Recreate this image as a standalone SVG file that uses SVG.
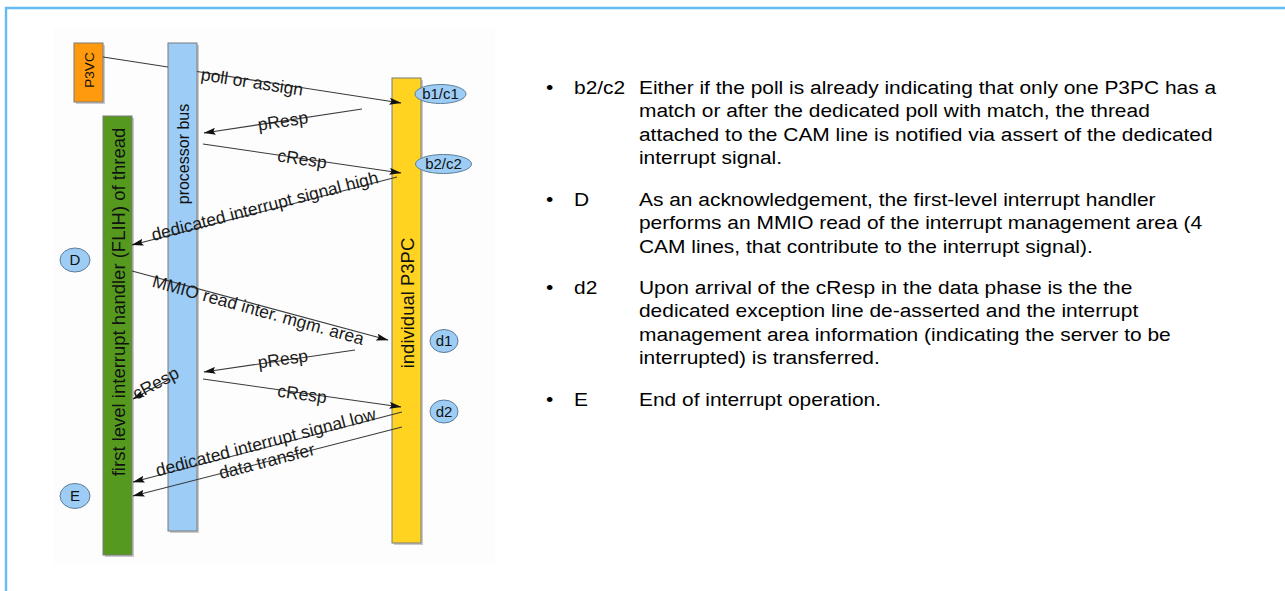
<svg xmlns="http://www.w3.org/2000/svg" width="1285" height="591" viewBox="0 0 1285 591">
<defs>
<style>
.bar{stroke:#7a7a7a;stroke-width:1}
.shadow{fill:#6a6a6a;opacity:0.35}
.conn{stroke:#3a3a3a;stroke-width:1.1;fill:none}
.arr{marker-end:url(#ah)}
.lbl{font-family:"Liberation Sans",Arial,sans-serif;font-size:17.5px;fill:#1a1a1a;text-anchor:middle}
.bl{font-family:"Liberation Sans",Arial,sans-serif;fill:#111;text-anchor:middle}
.ell{fill:#9dcdf5;stroke:#5c7d99;stroke-width:1}
.el{font-family:"Liberation Sans",Arial,sans-serif;font-size:15px;fill:#111;text-anchor:middle}
.tx{font-family:"Liberation Sans",Arial,sans-serif;font-size:18.7px;fill:#000}
</style>
<marker id="ah" markerWidth="12" markerHeight="7" refX="11.5" refY="3.5" orient="auto" markerUnits="userSpaceOnUse">
<path d="M0,0 L12,3.5 L0,7 L2,3.5 z" fill="#111"/>
</marker>
</defs>
<rect x="0" y="0" width="1285" height="591" fill="#fff"/>
<path d="M6,591 V8 H1285" fill="none" stroke="#66bbf7" stroke-width="2.4"/>
<rect x="53" y="28" width="442" height="537" fill="#fdfdfd"/>

<g id="node-p3vc">
<rect class="shadow" x="76" y="45" width="29" height="59"/>
<rect class="bar" x="74" y="43" width="29" height="59" fill="#ff9a0e"/>
<text class="bl" font-size="13.5" transform="translate(93.5,70) rotate(-90)">P3VC</text>
</g>
<g id="node-processor-bus">
<rect class="shadow" x="170" y="45" width="29" height="488"/>
<rect class="bar" x="168" y="43" width="29" height="488" fill="#9dcdf7"/>
<text class="bl" font-size="16" transform="translate(188.5,154) rotate(-90)">processor bus</text>
</g>
<g id="node-flih">
<rect class="shadow" x="105" y="118" width="29" height="439"/>
<rect class="bar" x="103" y="116" width="29" height="439" fill="#559a1f"/>
<text class="bl" font-size="18.5" transform="translate(124.5,302) rotate(-90)">first level interrupt handler (FLIH) of thread</text>
</g>
<g id="node-p3pc">
<rect class="shadow" x="394" y="80" width="29" height="465"/>
<rect class="bar" x="392" y="78" width="29" height="465" fill="#ffd31f"/>
<text class="bl" font-size="18.5" transform="translate(413.5,303) rotate(-90)">individual P3PC</text>
</g>

<g id="node-b1c1"><ellipse class="ell" cx="440.5" cy="94" rx="25.5" ry="9.5"/><text class="el" x="440.5" y="99">b1/c1</text></g>
<g id="node-b2c2"><ellipse class="ell" cx="443.5" cy="164" rx="28" ry="9.5"/><text class="el" x="443.5" y="169">b2/c2</text></g>
<g id="node-D"><ellipse class="ell" cx="75" cy="260" rx="15" ry="12"/><text class="el" x="75" y="265">D</text></g>
<g id="node-d1"><ellipse class="ell" cx="444" cy="341" rx="14" ry="11.5"/><text class="el" x="444" y="346">d1</text></g>
<g id="node-d2"><ellipse class="ell" cx="444" cy="411.5" rx="14" ry="11.5"/><text class="el" x="444" y="416.5">d2</text></g>
<g id="node-E"><ellipse class="ell" cx="75" cy="496" rx="15" ry="12.5"/><text class="el" x="75" y="501">E</text></g>

<g id="connectors">
<line class="conn" x1="103" y1="57" x2="168" y2="67"/>
<line class="conn arr" x1="197" y1="71.5" x2="401" y2="103"/>
<line class="conn arr" x1="362" y1="109" x2="204" y2="133"/>
<line class="conn arr" x1="203" y1="144" x2="401" y2="173"/>
<line class="conn arr" x1="397" y1="177" x2="132" y2="245"/>
<line class="conn arr" x1="132" y1="271" x2="388" y2="340"/>
<line class="conn arr" x1="355" y1="350" x2="204" y2="372"/>
<line class="conn arr" x1="168" y1="380" x2="133" y2="399"/>
<line class="conn arr" x1="203" y1="379" x2="401" y2="407"/>
<line class="conn arr" x1="402" y1="412" x2="133" y2="482"/>
<line class="conn arr" x1="402" y1="427" x2="133" y2="496"/>
<text class="lbl" transform="translate(252,83) rotate(8.8)" y="5">poll or assign</text>
<text class="lbl" transform="translate(283,122) rotate(-8.7)" y="5">pResp</text>
<text class="lbl" transform="translate(302,160) rotate(8.4)" y="5">cResp</text>
<text class="lbl" transform="translate(265,207) rotate(-14.4)" y="5">dedicated interrupt signal high</text>
<text class="lbl" transform="translate(258,311) rotate(15.5)" y="5">MMIO read inter. mgm. area</text>
<text class="lbl" transform="translate(283,360) rotate(-8.3)" y="5">pResp</text>
<text class="lbl" transform="translate(156,384) rotate(-28)" y="5">cResp</text>
<text class="lbl" transform="translate(302,395) rotate(8.1)" y="5">cResp</text>
<text class="lbl" transform="translate(266,443) rotate(-14.6)" y="5">dedicated interrupt signal low</text>
<text class="lbl" transform="translate(267,462) rotate(-14.4)" y="5">data transfer</text>
</g>

<g id="legend" transform="matrix(1.12,0,0,1,0,0)">
<text class="tx" x="487.5" y="94">•</text>
<text class="tx" x="512.5" y="94">b2/c2</text>
<text class="tx" x="570.5" y="94">Either if the poll is already indicating that only one P3PC has a</text>
<text class="tx" x="570.5" y="117.5">match or after the dedicated poll with match, the thread</text>
<text class="tx" x="570.5" y="141">attached to the CAM line is notified via assert of the dedicated</text>
<text class="tx" x="570.5" y="164.5">interrupt signal.</text>
<text class="tx" x="487.5" y="206">•</text>
<text class="tx" x="512.5" y="206">D</text>
<text class="tx" x="570.5" y="206">As an acknowledgement, the first-level interrupt handler</text>
<text class="tx" x="570.5" y="229.5">performs an MMIO read of the interrupt management area (4</text>
<text class="tx" x="570.5" y="253">CAM lines, that contribute to the interrupt signal).</text>
<text class="tx" x="487.5" y="294">•</text>
<text class="tx" x="512.5" y="294">d2</text>
<text class="tx" x="570.5" y="294">Upon arrival of the cResp in the data phase is the the</text>
<text class="tx" x="570.5" y="317.5">dedicated exception line de-asserted and the interrupt</text>
<text class="tx" x="570.5" y="341">management area information (indicating the server to be</text>
<text class="tx" x="570.5" y="364.5">interrupted) is transferred.</text>
<text class="tx" x="487.5" y="406">•</text>
<text class="tx" x="512.5" y="406">E</text>
<text class="tx" x="570.5" y="406">End of interrupt operation.</text>
</g>
</svg>
